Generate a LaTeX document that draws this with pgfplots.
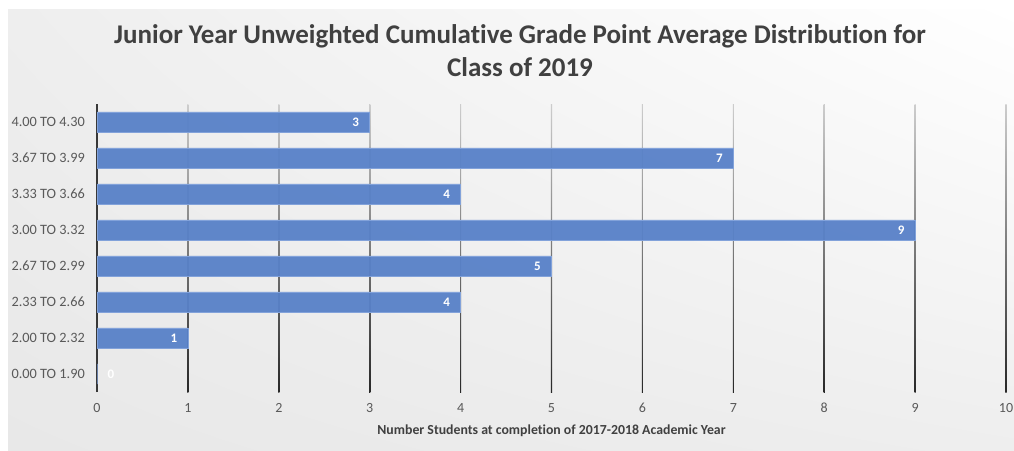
\documentclass[border=0pt]{standalone}
\usepackage{fontspec}
\setmainfont{Carlito}[Ligatures=NoCommon]
\usepackage{pgfplots}
\pgfplotsset{compat=1.18}
\usetikzlibrary{shadings}
\definecolor{barblue}{RGB}{88,129,200}
\definecolor{baredge}{RGB}{130,162,218}
\definecolor{titlegray}{RGB}{64,64,64}
\definecolor{ticklabgray}{RGB}{89,89,89}
\definecolor{bgUL}{RGB}{238,238,238}
\definecolor{bgLL}{RGB}{232,232,232}
\definecolor{bgLR}{RGB}{238,238,238}
\definecolor{gridtop}{RGB}{205,205,205}
\definecolor{gridmid}{RGB}{185,185,185}
\definecolor{gridbot}{RGB}{40,40,40}
\begin{document}
\begin{tikzpicture}
\fill[white] (0bp,0bp) rectangle (1014bp,-451bp);
\shade[upper left=bgUL, upper right=white, lower left=bgLL, lower right=bgLR] (8bp,-9bp) rectangle (1014bp,-451bp);
\node[font=\fontsize{27bp}{33bp}\selectfont\bfseries, text=titlegray, align=center] at (520bp,-51bp)
  {Junior Year Unweighted Cumulative Grade Point Average Distribution for\\Class of 2019};
\begin{axis}[
  at={(97bp,-392bp)}, anchor=south west,
  scale only axis, width=909bp, height=288bp,
  xmin=0, xmax=10, ymin=-0.5, ymax=7.5,
  xbar, bar width=0.56,
  axis lines*=left,
  x axis line style={draw=none},
  y axis line style={line width=2.5bp, color=black!78, -},
  major tick length=0pt,
  xtick={0,1,...,10},
  ytick={0,1,...,7},
  yticklabels={0.00 TO 1.90,2.00 TO 2.32,2.33 TO 2.66,2.67 TO 2.99,3.00 TO 3.32,3.33 TO 3.66,3.67 TO 3.99,4.00 TO 4.30},
  yticklabel style={font=\fontsize{14.3bp}{16bp}\selectfont, text=ticklabgray, inner sep=0pt, xshift=-12bp},
  xticklabel style={font=\fontsize{14bp}{16bp}\selectfont, text=ticklabgray, inner sep=0pt, yshift=-11bp},
  /pgf/number format/assume math mode=true,
  xlabel={Number Students at completion of 2017-2018 Academic Year},
  xlabel style={font=\fontsize{13.8bp}{16bp}\selectfont\bfseries, text=titlegray, at={(axis description cs:0.5,0)}, anchor=north, inner sep=0pt, yshift=-33bp},
  clip=false,
  nodes near coords,
  visualization depends on=rawx \as \rawx,
  nodes near coords style={font=\fontsize{13bp}{14bp}\selectfont\bfseries, text=white, anchor=center, xshift={((\rawx<0.5)*28-14)*1bp}},
]
\pgfplotsinvokeforeach{1,...,10}{
  \shade[top color=gridtop, middle color=gridmid, bottom color=gridbot]
    ([xshift=-0.55bp]axis cs:#1,-0.5) rectangle ([xshift=0.55bp]axis cs:#1,7.5);
}
\addplot[fill=barblue, fill opacity=0.95, draw=baredge, line width=0.8bp, text opacity=1] coordinates {
  (0,0) (1,1) (4,2) (5,3) (9,4) (4,5) (7,6) (3,7)
};
\end{axis}
\end{tikzpicture}
\end{document}
